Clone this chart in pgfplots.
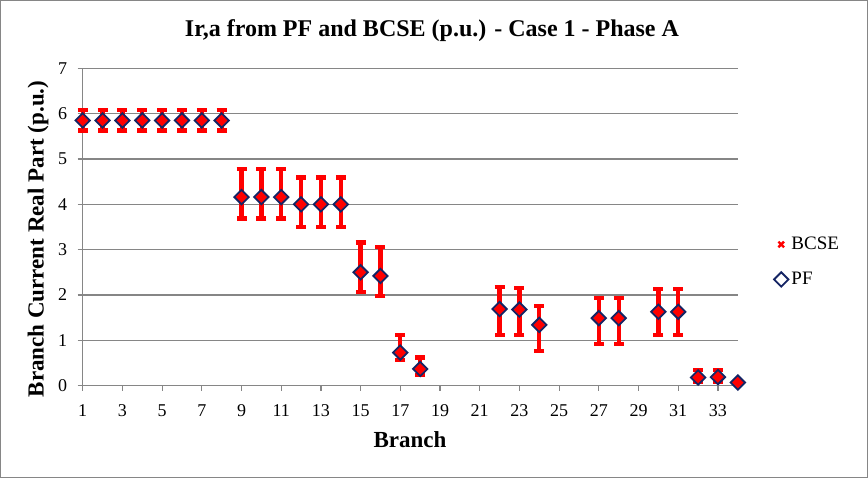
\documentclass[border=0pt]{standalone}
\usepackage{pgfplots}
\pgfplotsset{compat=1.18}
\usepackage{fontspec}
\setmainfont{Liberation Serif}
\definecolor{pfnavy}{RGB}{20,36,100}
\definecolor{gridgray}{RGB}{134,134,134}
\begin{document}
\begin{tikzpicture}[x=1pt,y=1pt]
\draw[gridgray,line width=1pt] (0.5,0.5) rectangle (867.5,477.5);
\begin{axis}[
  at={(82.7pt,92.3pt)}, anchor=south west,
  scale only axis, width=655.1pt, height=317.4pt,
  xmin=1, xmax=34, ymin=0, ymax=7,
  xtick={1,3,...,33}, ytick={0,1,...,7},
  axis x line=bottom, axis y line=left,
  axis line style={gridgray,line width=1.3pt,-},
  ymajorgrids, grid style={gridgray,line width=1.3pt},
  tick align=outside, major tick length=5pt,
  tick style={gridgray,line width=1.2pt},
  /pgf/number format/assume math mode=true,
  ticklabel style={font=\fontsize{18}{20}\selectfont},
  xticklabel style={yshift=-10pt},
  yticklabel style={xshift=-7pt},
  legend style={at={(1.055,0.39)},anchor=west,draw=none,fill=none,
    font=\fontsize{19}{21}\selectfont, row sep=17pt, inner sep=0pt,
    nodes={inner xsep=3pt}},
  legend cell align=left,
  clip=false,
]
\addplot[forget plot, only marks, mark=square*, mark size=4.3pt, color=red,
  mark options={rotate=45,fill=red,draw=red},
  error bars/.cd, y dir=both, y explicit,
  error bar style={line width=4.3pt,red},
  error mark options={rotate=90,mark size=5pt,line width=4.3pt,red}]
coordinates {
(1,5.85) += (0,0.23) -= (0,0.22)
(2,5.85) += (0,0.23) -= (0,0.22)
(3,5.85) += (0,0.23) -= (0,0.22)
(4,5.85) += (0,0.23) -= (0,0.22)
(5,5.85) += (0,0.23) -= (0,0.22)
(6,5.85) += (0,0.23) -= (0,0.22)
(7,5.85) += (0,0.23) -= (0,0.22)
(8,5.85) += (0,0.23) -= (0,0.22)
(9,4.16) += (0,0.62) -= (0,0.47)
(10,4.16) += (0,0.62) -= (0,0.47)
(11,4.16) += (0,0.62) -= (0,0.47)
(12,4.00) += (0,0.59) -= (0,0.50)
(13,4.00) += (0,0.59) -= (0,0.50)
(14,4.00) += (0,0.59) -= (0,0.50)
(15,2.50) += (0,0.66) -= (0,0.44)
(16,2.42) += (0,0.64) -= (0,0.44)
(17,0.73) += (0,0.39) -= (0,0.16)
(18,0.37) += (0,0.25) -= (0,0.13)
(22,1.69) += (0,0.48) -= (0,0.57)
(23,1.68) += (0,0.48) -= (0,0.56)
(24,1.34) += (0,0.42) -= (0,0.57)
(27,1.49) += (0,0.44) -= (0,0.57)
(28,1.49) += (0,0.44) -= (0,0.57)
(30,1.63) += (0,0.50) -= (0,0.51)
(31,1.63) += (0,0.50) -= (0,0.51)
(32,0.18) += (0,0.17) -= (0,0.10)
(33,0.19) += (0,0.16) -= (0,0.10)
(34,0.07) += (0,0.03) -= (0,0.03)
};
\addlegendimage{only marks, mark=x, mark size=4pt, red, line width=2.4pt}
\addplot[only marks, mark=square, mark size=5.1pt, color=pfnavy,
  mark options={rotate=45,line width=1.8pt,fill=none}]
coordinates {
(1,5.85) (2,5.85) (3,5.85) (4,5.85) (5,5.85) (6,5.85) (7,5.85) (8,5.85)
(9,4.16) (10,4.16) (11,4.16) (12,4.00) (13,4.00) (14,4.00)
(15,2.50) (16,2.42) (17,0.73) (18,0.37)
(22,1.69) (23,1.68) (24,1.34) (27,1.49) (28,1.49) (30,1.63) (31,1.63)
(32,0.18) (33,0.19) (34,0.07)
};
\legend{BCSE,PF}
\end{axis}
\node[font=\fontsize{24}{26}\selectfont\bfseries] at (432,447) {Ir,a from PF and BCSE (p.u.) - Case 1 - Phase A};
\node[font=\fontsize{23}{25}\selectfont\bfseries] at (410,38) {Branch};
\node[font=\fontsize{23}{25}\selectfont\bfseries,rotate=90] at (38,239) {Branch Current Real Part (p.u.)};
\end{tikzpicture}
\end{document}
